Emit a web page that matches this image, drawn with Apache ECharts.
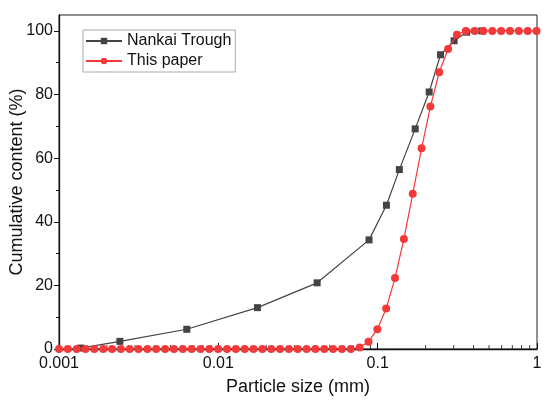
<!DOCTYPE html>
<html>
<head>
<meta charset="utf-8">
<script src="https://cdn.jsdelivr.net/npm/echarts@6/dist/echarts.min.js"></script>
<style>
  html, body { margin: 0; padding: 0; background: #fff; }
  #chart { width: 550px; height: 403px; }
</style>
</head>
<body>
<div id="chart"></div>
<script>
// Nankai Trough grading curve
var nankaiSize = [0.00137, 0.00241, 0.00634, 0.0176, 0.0417, 0.0883, 0.1135, 0.1368, 0.172, 0.2105, 0.248, 0.302, 0.362, 0.45]
var nankaiContent = [0.3, 2.4, 6.2, 13.0, 20.8, 34.3, 45.2, 56.4, 69.2, 80.8, 92.5, 96.9, 99.6, 100]

// This paper, laser sizer bins
var paperSize = [
    0.00100, 0.001136, 0.001291, 0.001467, 0.001667, 0.001894, 0.002152, 0.002445, 0.002778, 0.003156,
    0.003589, 0.004077, 0.004634, 0.005265, 0.005984, 0.006800, 0.007727, 0.008780, 0.009977, 0.01134,
    0.01288, 0.01464, 0.01663, 0.01890, 0.02148, 0.02440, 0.02773, 0.03151, 0.03581, 0.04069,
    0.04624, 0.05254, 0.05970, 0.06783, 0.07709, 0.08759, 0.09954, 0.1131, 0.1285, 0.1461,
    0.1660, 0.1886, 0.2143, 0.2435, 0.2767, 0.3144, 0.3573, 0.4060, 0.4613, 0.5242,
    0.5957, 0.6769, 0.7691, 0.8740, 0.9931
]
var paperContent = [
    0, 0, 0, 0, 0, 0, 0, 0, 0, 0,
    0, 0, 0, 0, 0, 0, 0, 0, 0, 0,
    0, 0, 0, 0, 0, 0, 0, 0, 0, 0,
    0, 0, 0, 0, 0.5, 2.3, 6.2, 12.7, 22.3, 34.6,
    48.8, 63.1, 76.2, 87.0, 94.3, 98.8, 100, 100, 100, 100,
    100, 100, 100, 100, 100
]

// minor ticks of the log x axis (2..9 in every decade)
var xMinorTicks = [
    0.002, 0.003, 0.004, 0.005, 0.006, 0.007, 0.008, 0.009,
    0.02, 0.03, 0.04, 0.05, 0.06, 0.07, 0.08, 0.09,
    0.2, 0.3, 0.4, 0.5, 0.6, 0.7, 0.8, 0.9
]
var yMajorTicks = [0, 20, 40, 60, 80, 100]
var yMinorTicks = [10, 30, 50, 70, 90]

var font = 'Arial, "Liberation Sans", sans-serif'

function zip(xs, ys) {
    return xs.map(function (x, i) { return [x, ys[i]] })
}

var myChart = echarts.init(document.getElementById('chart'))

myChart.setOption({
    animation: false,
    textStyle: { fontFamily: font },
    grid: {
        left: 59,
        right: 13,
        top: 15,
        bottom: 54,
        outerBoundsMode: 'none',
        containLabel: false,
        show: true,
        borderColor: '#222',
        borderWidth: 1
    },
    legend: {
        left: 83,
        top: 30,
        orient: 'vertical',
        itemWidth: 36,
        itemHeight: 8,
        itemGap: 4,
        padding: [3, 4, 3, 2],
        borderColor: '#aaa',
        borderWidth: 1,
        textStyle: { fontSize: 16, color: '#111', lineHeight: 16, fontFamily: font },
        data: ['Nankai Trough', 'This paper']
    },
    xAxis: {
        type: 'log',
        logBase: 10,
        min: 0.001,
        max: 1,
        name: 'Particle size (mm)',
        nameLocation: 'middle',
        nameGap: 29,
        nameMoveOverlap: false,
        nameTextStyle: { fontSize: 18, color: '#111', fontFamily: font },
        axisLine: { lineStyle: { color: '#111', width: 1.3 } },
        axisTick: { inside: true, length: 6, lineStyle: { color: '#111' } },
        axisLabel: {
            fontSize: 16,
            color: '#111',
            margin: 7,
            formatter: function (v) { return String(+(+v).toPrecision(3)) }
        },
        splitLine: { show: false }
    },
    yAxis: [
        {
            type: 'value',
            min: 0,
            max: 105,
            name: 'Cumulative content (%)',
            nameLocation: 'middle',
            nameGap: 33,
            nameMoveOverlap: false,
            nameTextStyle: { fontSize: 18, color: '#111', fontFamily: font },
            axisLine: { show: true, lineStyle: { color: '#111', width: 1.3 } },
            axisTick: { show: true, inside: false, length: 5, customValues: yMajorTicks, lineStyle: { color: '#111' } },
            axisLabel: { customValues: yMajorTicks, fontSize: 16, color: '#111', margin: 6 },
            splitLine: { show: false }
        },
        {
            type: 'value',
            position: 'left',
            min: 0,
            max: 105,
            axisLine: { show: false },
            axisTick: { show: true, inside: false, length: 3, customValues: yMinorTicks, lineStyle: { color: '#111' } },
            axisLabel: { show: false },
            splitLine: { show: false }
        }
    ],
    series: [
        {
            // minor ticks along the bottom axis
            name: 'minor',
            type: 'scatter',
            silent: true,
            clip: false,
            symbol: 'rect',
            symbolSize: [1, 4],
            symbolOffset: [0, -2],
            itemStyle: { color: '#111' },
            data: xMinorTicks.map(function (v) { return [v, 0] }),
            z: 1
        },
        {
            name: 'Nankai Trough',
            type: 'line',
            symbol: 'rect',
            symbolSize: 7,
            color: '#444',
            lineStyle: { color: '#444', width: 1.2 },
            itemStyle: { color: '#444' },
            data: zip(nankaiSize, nankaiContent),
            z: 2
        },
        {
            name: 'This paper',
            type: 'line',
            symbol: 'circle',
            symbolSize: 8,
            color: '#f23a3a',
            lineStyle: { color: '#f23a3a', width: 1.2 },
            itemStyle: { color: '#f23a3a' },
            data: zip(paperSize, paperContent),
            z: 3
        }
    ]
})
</script>
</body>
</html>
